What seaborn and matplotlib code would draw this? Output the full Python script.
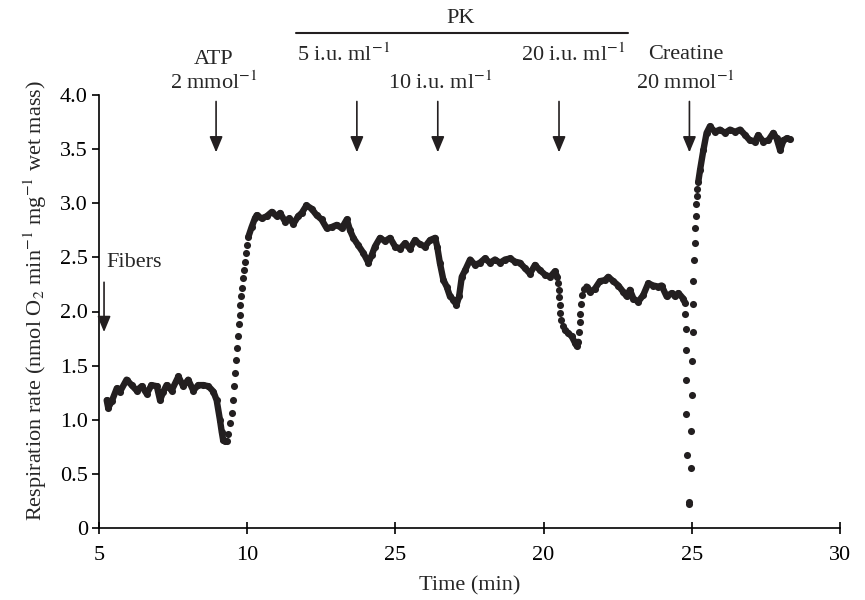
import pandas as pd
import matplotlib
matplotlib.use('Agg')
import matplotlib.pyplot as plt
import seaborn as sns

# trace: solid stretches and dotted (fast) transitions
seg1_t = [5.26, 5.31, 5.43, 5.60, 5.71, 5.93, 6.10, 6.27, 6.44, 6.61, 6.77, 6.95, 7.06, 7.17, 7.28,
          7.45, 7.68, 7.84, 8.01, 8.18, 8.35, 8.52, 8.69, 8.86, 8.97, 9.08, 9.14, 9.19, 9.25, 9.31]
seg1_v = [1.18, 1.11, 1.17, 1.29, 1.26, 1.37, 1.32, 1.27, 1.31, 1.24, 1.32, 1.31, 1.18, 1.26, 1.32,
          1.27, 1.40, 1.31, 1.37, 1.27, 1.32, 1.32, 1.31, 1.26, 1.18, 1.00, 0.89, 0.81, 0.80, 0.80]

dots1_t = [9.36, 9.43, 9.48, 9.53, 9.57, 9.60, 9.62, 9.66, 9.69, 9.72, 9.76, 9.77, 9.79, 9.81, 9.85,
           9.88, 9.91, 9.95, 9.98]
dots1_v = [0.87, 0.97, 1.06, 1.18, 1.31, 1.43, 1.55, 1.66, 1.77, 1.88, 1.97, 2.06, 2.14, 2.22, 2.31,
           2.38, 2.46, 2.54, 2.61]

seg2_t = [10.04, 10.15, 10.26, 10.32, 10.49, 10.66, 10.83, 11.00, 11.11, 11.28, 11.42, 11.56, 11.72,
          11.84, 12.00, 12.17, 12.34, 12.51, 12.68, 12.85, 13.02, 13.19, 13.36, 13.47, 13.58, 13.75,
          13.92, 14.09, 14.20, 14.31, 14.48, 14.65, 14.82, 14.99, 15.16, 15.32, 15.49, 15.66, 15.83,
          16.00, 16.17, 16.34, 16.41, 16.50, 16.62, 16.73, 16.84, 16.95, 17.06, 17.15, 17.24, 17.35,
          17.52, 17.69, 17.85, 18.02, 18.19, 18.36, 18.53, 18.70, 18.87, 19.04, 19.20, 19.37, 19.54,
          19.71, 19.88, 20.05, 20.22, 20.38, 20.46]
seg2_v = [2.69, 2.78, 2.86, 2.89, 2.86, 2.88, 2.92, 2.88, 2.91, 2.83, 2.86, 2.81, 2.88,
          2.91, 2.98, 2.95, 2.89, 2.85, 2.77, 2.78, 2.80, 2.77, 2.85, 2.75, 2.68, 2.61,
          2.54, 2.45, 2.52, 2.60, 2.68, 2.65, 2.68, 2.60, 2.58, 2.63, 2.58, 2.66, 2.62,
          2.60, 2.66, 2.68, 2.60, 2.45, 2.29, 2.23, 2.14, 2.11, 2.06, 2.14, 2.32, 2.38,
          2.48, 2.43, 2.45, 2.49, 2.45, 2.48, 2.45, 2.48, 2.49, 2.46, 2.45, 2.40, 2.35,
          2.43, 2.38, 2.34, 2.32, 2.37, 2.32]

dots2_t = [20.49, 20.51, 20.53, 20.55, 20.57, 20.60, 20.65]
dots2_v = [2.26, 2.20, 2.13, 2.06, 1.99, 1.92, 1.87]

seg3_t = [20.72, 20.83, 20.95, 21.06, 21.12, 21.17]
seg3_v = [1.83, 1.80, 1.77, 1.71, 1.68, 1.72]

dots3_t = [21.20, 21.22, 21.24, 21.27, 21.31, 21.37]
dots3_v = [1.81, 1.90, 1.98, 2.07, 2.15, 2.21]

seg4_t = [21.45, 21.56, 21.73, 21.90, 22.07, 22.18, 22.35, 22.52, 22.69, 22.80, 22.91, 23.03,
          23.19, 23.36, 23.53, 23.70, 23.87, 23.98, 24.15, 24.32, 24.43, 24.55, 24.71, 24.77]
seg4_v = [2.23, 2.18, 2.21, 2.28, 2.29, 2.32, 2.28, 2.24, 2.18, 2.14, 2.20, 2.12,
          2.09, 2.15, 2.26, 2.24, 2.23, 2.24, 2.14, 2.17, 2.14, 2.17, 2.12, 2.08]

dots4_t = [24.78, 24.80, 24.80, 24.82, 24.82, 24.84, 24.90, 24.91, 24.97, 24.97, 24.99, 25.02,
           25.03, 25.05, 25.05, 25.07, 25.11, 25.11, 25.13, 25.14, 25.16, 25.18]
dots4_v = [1.98, 1.84, 1.64, 1.37, 1.05, 0.67, 0.24, 0.22, 0.55, 0.90, 1.23, 1.54,
           1.81, 2.07, 2.28, 2.48, 2.63, 2.77, 2.88, 2.99, 3.07, 3.13]

seg5_t = [25.22, 25.28, 25.39, 25.50, 25.61, 25.78, 25.95, 26.12, 26.29, 26.46, 26.63, 26.80,
          26.96, 27.13, 27.24, 27.41, 27.58, 27.75, 27.86, 27.98, 28.09, 28.20, 28.31]
seg5_v = [3.20, 3.31, 3.49, 3.65, 3.71, 3.66, 3.68, 3.65, 3.68, 3.66, 3.68, 3.63,
          3.58, 3.57, 3.63, 3.57, 3.58, 3.65, 3.60, 3.49, 3.58, 3.60, 3.59]

x_ticks = [5, 10, 15, 20, 25, 30]
x_tick_labels = ['5', '10', '25', '20', '25', '30']
y_ticks = [0, 0.5, 1.0, 1.5, 2.0, 2.5, 3.0, 3.5, 4.0]
y_tick_labels = ['0', '0.5', '1.0', '1.5', '2.0', '2.5', '3.0', '3.5', '4.0']

# times where something was added (ATP, PK 5/10/20, creatine)
arrow_times = [8.95, 13.70, 16.43, 20.52, 24.92]

pieces = [(seg1_t, seg1_v, 'line'), (dots1_t, dots1_v, 'dots'), (seg2_t, seg2_v, 'line'),
          (dots2_t, dots2_v, 'dots'), (seg3_t, seg3_v, 'line'), (dots3_t, dots3_v, 'dots'),
          (seg4_t, seg4_v, 'line'), (dots4_t, dots4_v, 'dots'), (seg5_t, seg5_v, 'line')]
rows = []
for i, (tt, vv, kind) in enumerate(pieces):
    for t, v in zip(tt, vv):
        rows.append({'time': t, 'rate': v, 'segment': i, 'kind': kind})
df = pd.DataFrame(rows)

sns.set_style('ticks')
plt.rcParams['font.family'] = ['Liberation Serif', 'DejaVu Serif']
plt.rcParams['mathtext.fontset'] = 'stix'

ink = '#231f20'
fs = 16
fig = plt.figure(figsize=(8.65, 6), dpi=100)
ax = fig.add_axes([99 / 865, 72 / 600, 741 / 865, 433 / 600])

sns.lineplot(data=df[df['kind'] == 'line'], x='time', y='rate', units='segment', estimator=None,
             color=ink, lw=4.6, ax=ax, legend=False, solid_capstyle='round', solid_joinstyle='round')
sns.scatterplot(data=df, x='time', y='rate', color=ink, s=26, linewidth=0, ax=ax, legend=False)

ax.set_xlim(5, 30)
ax.set_ylim(0, 4)
ax.set_xticks(x_ticks)
ax.set_xticklabels(x_tick_labels)
ax.set_yticks(y_ticks)
ax.set_yticklabels(y_tick_labels)
ax.tick_params(axis='x', direction='inout', length=8, width=1.2, labelsize=fs, colors='black', pad=9)
ax.tick_params(axis='y', direction='out', length=5, width=1.2, labelsize=fs, colors='black', pad=3)
for s in ['top', 'right']:
    ax.spines[s].set_visible(False)
for s in ['left', 'bottom']:
    ax.spines[s].set_linewidth(1.2)
    ax.spines[s].set_color('black')

ax.set_xlabel('Time (min)', fontsize=fs, labelpad=8)
ax.set_ylabel('Respiration rate (nmol O$_2$ min$^{-1}$ mg$^{-1}$ wet mass)', fontsize=fs)
ax.yaxis.set_label_coords(-0.068, 0.525)

arrow_kw = dict(arrowstyle='-|>,head_width=0.25,head_length=0.6', color=ink, lw=1.2,
                shrinkA=0, shrinkB=0, mutation_scale=16)
for t in arrow_times:
    ax.annotate('', xy=(t, 3.47), xytext=(t, 3.94), xycoords='data', arrowprops=arrow_kw,
                annotation_clip=False)
ax.annotate('', xy=(5.17, 1.81), xytext=(5.17, 2.27), arrowprops=arrow_kw, annotation_clip=False)
ax.text(5.24, 2.45, 'Fibers', fontsize=fs, ha='left', va='center')

tk = dict(fontsize=fs, ha='center', va='center', clip_on=False)
ax.text(8.88, 4.33, 'ATP', **tk)
ax.text(8.88, 4.11, '2 mmol$^{-1}$', **tk)
ax.text(17.21, 4.71, 'PK', **tk)
ax.plot([11.64, 22.84], [4.57, 4.57], color=ink, lw=1.5, clip_on=False)
ax.text(11.68, 4.37, '5 i.u. ml$^{-1}$', fontsize=fs, ha='left', va='center', clip_on=False)
ax.text(16.50, 4.11, '10 i.u. ml$^{-1}$', **tk)
ax.text(20.99, 4.37, '20 i.u. ml$^{-1}$', **tk)
ax.text(24.80, 4.37, 'Creatine', **tk)
ax.text(24.80, 4.11, '20 mmol$^{-1}$', **tk)

fig.savefig('out.png', dpi=100)
